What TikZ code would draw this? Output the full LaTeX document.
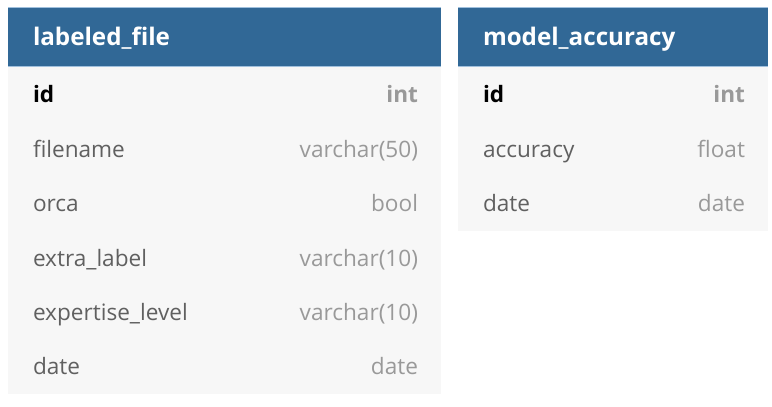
\documentclass[tikz,border=0pt]{standalone}
\usepackage{fontspec}
\setmainfont{Open Sans}
\begin{document}
\begin{tikzpicture}[x=1pt,y=-1pt]
\definecolor{fillColor}{RGB}{255,255,255}
\definecolor{headColor}{RGB}{49,104,150}
\definecolor{edgeColor}{RGB}{160,192,221}
\definecolor{bodyColor}{RGB}{247,247,247}
\definecolor{nameColor}{RGB}{96,96,96}
\definecolor{typeColor}{RGB}{153,153,153}
\tikzset{
  headtext/.style={text=white,anchor=base west,inner sep=0pt,outer sep=0pt,font=\fontsize{24.2}{28}\selectfont\bfseries},
  keytext/.style={text=black,anchor=base west,inner sep=0pt,outer sep=0pt,font=\fontsize{22.6}{27}\selectfont\bfseries},
  keytype/.style={text=typeColor,anchor=base east,inner sep=0pt,outer sep=0pt,font=\fontsize{22.6}{27}\selectfont\bfseries},
  coltext/.style={text=nameColor,anchor=base west,inner sep=0pt,outer sep=0pt,font=\fontsize{22.6}{27}\selectfont},
  coltype/.style={text=typeColor,anchor=base east,inner sep=0pt,outer sep=0pt,font=\fontsize{22.6}{27}\selectfont}
}
\path[use as bounding box,fill=fillColor] (0,0) rectangle (772,407);

% labeled_file
\path[fill=bodyColor] (  8.00, 67.00) rectangle (441.00,394.00);
\path[fill=headColor] (  8.00,  7.00) rectangle (441.00, 67.00);
\path[draw=edgeColor,line width=1pt] (  8.00,  7.50) -- (441.00,  7.50);
\path[draw=edgeColor,line width=1pt] (  8.00, 66.50) -- (441.00, 66.50);
\node[headtext] (lfTitle) at ( 33.00, 45.70) {labeled\_file};
\node[keytext] (lfId) at ( 33.00,102.70) {id};
\node[keytype] (lfIdType) at (418.00,102.70) {int};
\foreach \n/\t [count=\i] in {filename/varchar(50),orca/bool,extra\_label/varchar(10),expertise\_level/varchar(10),date/date}{
  \node[coltext] (lfName\i) at ( 33.00,102.70+54.45*\i) {\n};
  \node[coltype] (lfType\i) at (418.00,102.70+54.45*\i) {\t};
}

% model_accuracy
\path[fill=bodyColor] (458.00, 67.00) rectangle (768.00,231.00);
\path[fill=headColor] (458.00,  7.00) rectangle (768.00, 67.00);
\path[draw=edgeColor,line width=1pt] (458.00,  7.50) -- (768.00,  7.50);
\path[draw=edgeColor,line width=1pt] (458.00, 66.50) -- (768.00, 66.50);
\node[headtext] (maTitle) at (483.00, 45.70) {model\_accuracy};
\node[keytext] (maId) at (483.00,102.70) {id};
\node[keytype] (maIdType) at (745.00,102.70) {int};
\foreach \n/\t [count=\i] in {accuracy/float,date/date}{
  \node[coltext] (maName\i) at (483.00,102.70+54.45*\i) {\n};
  \node[coltype] (maType\i) at (745.00,102.70+54.45*\i) {\t};
}
\end{tikzpicture}
\end{document}
